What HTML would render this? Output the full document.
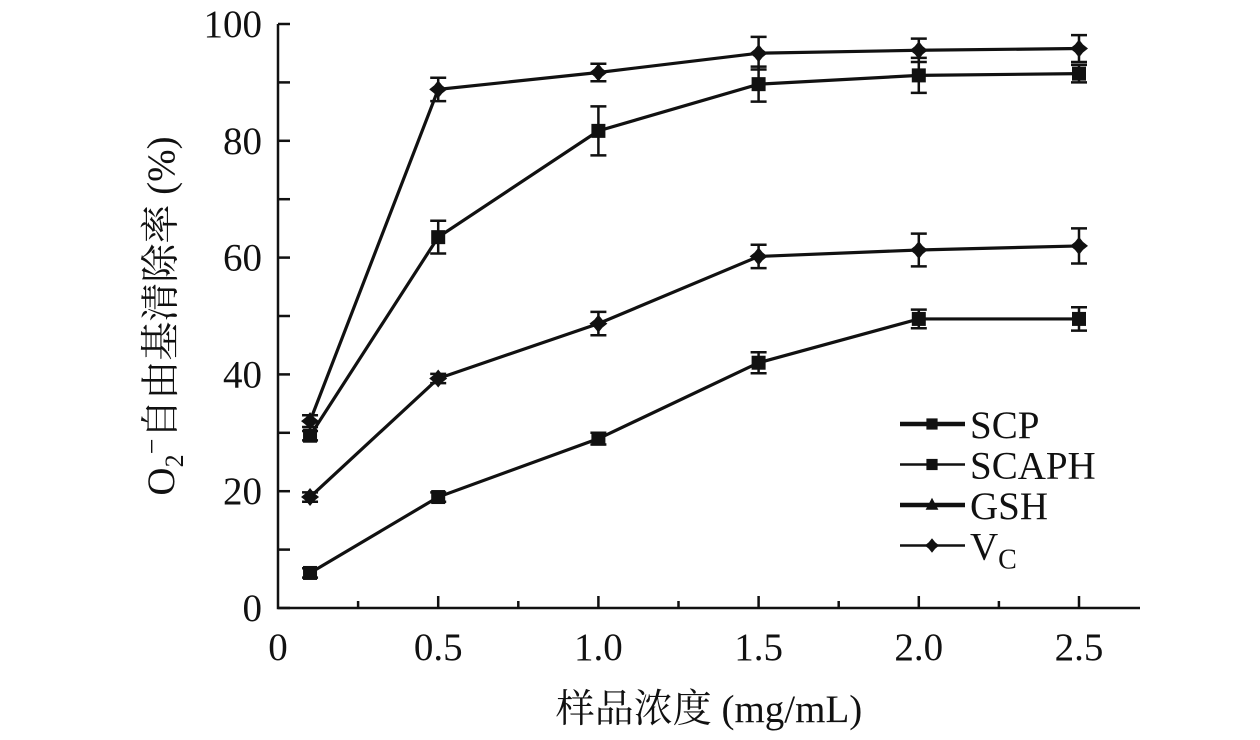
<!DOCTYPE html>
<html><head><meta charset="utf-8"><style>
body{margin:0;background:#fff;}
svg text{font-family:"Liberation Serif","Noto Serif CJK SC",serif;fill:#111;}
</style></head><body>
<svg id="chart" width="1260" height="735" xmlns="http://www.w3.org/2000/svg">
<g id="axes"></g>
<g id="series"></g>
<g id="legend"></g>
<text transform="translate(174,316) rotate(-90)" text-anchor="middle" font-size="39">O<tspan font-size="26" dy="9">2</tspan><tspan dy="-22" font-size="28">−</tspan><tspan dy="13">自由基清除率 (%)</tspan></text>
<text x="709" y="722" text-anchor="middle" font-size="39">样品浓度 (mg/mL)</text>
</svg>
<script>
const xVals=[0.1,0.5,1.0,1.5,2.0,2.5];
const names=["SCP","SCAPH","GSH","VC"];
const scp=[6,19,29,42,49.5,49.5];
const scpErr=[0.8,0.8,1,1.8,1.6,2];
const scaph=[19,39.3,48.7,60.2,61.3,62];
const scaphErr=[0.8,0.8,2,2,2.8,3];
const gsh=[29.5,63.5,81.7,89.7,91.2,91.5];
const gshErr=[0.8,2.8,4.2,3,3,1.5];
const vc=[32,88.8,91.7,95,95.5,95.8];
const vcErr=[1,2,1.5,2.8,2,2.3];
const xTicks=[0,0.5,1.0,1.5,2.0,2.5];
const xTickLabels=["0","0.5","1.0","1.5","2.0","2.5"];
const yTicks=[0,20,40,60,80,100];
const ns="http://www.w3.org/2000/svg";
const X=v=>278+v*320.4, Y=v=>608-v*5.84;
function mk(t,a,p){const e=document.createElementNS(ns,t);for(const k in a)e.setAttribute(k,a[k]);p.appendChild(e);return e;}
const ax=document.getElementById('axes');
let e=mk('path',{d:`M278,24 V608 H1140`,stroke:'#111','stroke-width':2.5,fill:'none'},ax);


for(let v=0;v<=100;v+=10){e=mk('line',{x1:278,x2:290,y1:Y(v),y2:Y(v),stroke:'#111','stroke-width':2.5},ax);

}
yTicks.forEach(v=>{e=mk('text',{x:262,y:Y(v)+13,'text-anchor':'end','font-size':39},ax);e.textContent=v;

});
for(let v=0.25;v<=2.51;v+=0.25){const maj=Math.abs(v*2-Math.round(v*2))<1e-6;e=mk('line',{x1:X(v),x2:X(v),y1:608,y2:maj?596:601,stroke:'#111','stroke-width':2.5},ax);

}
xTicks.forEach((v,i)=>{e=mk('text',{x:X(v),y:660,'text-anchor':'middle','font-size':39},ax);e.textContent=xTickLabels[i];

});
const sg=document.getElementById('series');
function marker(type,cx,cy,g){
 if(type==='sq')return mk('rect',{x:cx-7,y:cy-7,width:14,height:14,fill:'#111'},g);
 if(type==='tri')return mk('path',{d:`M${cx},${cy-9} L${cx+8},${cy+6} L${cx-8},${cy+6}Z`,fill:'#111'},g);
 return mk('path',{d:`M${cx},${cy-9} L${cx+4},${cy-4} L${cx+9},${cy} L${cx+4},${cy+4} L${cx},${cy+9} L${cx-4},${cy+4} L${cx-9},${cy} L${cx-4},${cy-4}Z`,fill:'#111'},g);
}
const sets=[[scp,scpErr,'sq','scp'],[scaph,scaphErr,'dia','scaph'],[gsh,gshErr,'sq','gsh'],[vc,vcErr,'dia','vc']];
sets.forEach(([d,er,m,n])=>{
 const g=mk('g',{},sg);
 
 
 e=mk('polyline',{points:d.map((v,i)=>X(xVals[i])+','+Y(v)).join(' '),fill:'none',stroke:'#111','stroke-width':3.2},g);
 
 
 d.forEach((v,i)=>{const cx=X(xVals[i]);
  e=mk('path',{d:`M${cx},${Y(v+er[i])} V${Y(v-er[i])} M${cx-8},${Y(v+er[i])} H${cx+8} M${cx-8},${Y(v-er[i])} H${cx+8}`,stroke:'#111','stroke-width':2.5,fill:'none'},g);
  
  
  e=marker(m,cx,Y(v),g);
  
  });
});
const lg=document.getElementById('legend');
const lm=['sq','sq','tri','dia'],lw=[4.5,2.5,4.5,2.5];
names.forEach((n,i)=>{const y=424+i*40.5;
 const g=mk('g',{},lg);
 
 
 mk('line',{x1:900,x2:965,y1:y,y2:y,stroke:'#111','stroke-width':lw[i]},g);
 const s=0.8;
 marker(lm[i],932,y,g).setAttribute('transform',`translate(${932*(1-s)},${y*(1-s)}) scale(${s})`);
 const t=mk('text',{x:970,y:y+14,'font-size':39},g);
 if(n==='VC'){t.innerHTML='V<tspan font-size="28" dy="9">C</tspan>';}else t.textContent=n;
});
</script>
</body></html>
